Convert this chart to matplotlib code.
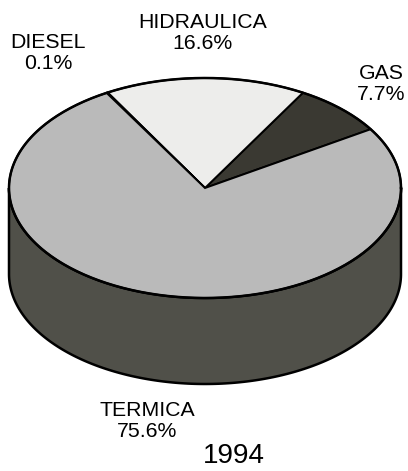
import numpy as np
import matplotlib.pyplot as plt
from matplotlib.patches import Polygon

labels = ["GAS", "HIDRAULICA", "DIESEL", "TERMICA"]
shares = [7.7, 16.6, 0.1, 75.6]
top_colors = ["#3a3932", "#ededeb", "#c2c2c2", "#bababa"]
side_color = "#505049"
year = "1994"

# label anchors (pixel coords), one per slice
label_xy = [(381, 84), (203, 33), (48, 53), (147, 421)]

W, H = 408, 471
cx, cy = 205, 188      # center of the top face
rx, ry = 196, 110      # radii of the top face
depth = 86             # height of the cylinder wall
start = 32.3           # first slice starts here (degrees, counter-clockwise)

def rim(a0, a1, dy=0.0, n=200):
    t = np.radians(np.linspace(a0, a1, n))
    return np.column_stack([cx + rx * np.cos(t), cy - ry * np.sin(t) + dy])

fig = plt.figure(figsize=(W / 100, H / 100), dpi=100)
ax = fig.add_axes([0, 0, 1, 1])
ax.set_xlim(0, W)
ax.set_ylim(H, 0)
ax.axis("off")

# wall: front half of the rim, from left to right
front = rim(180, 360)
wall = np.vstack([front, rim(360, 180, depth)])
ax.add_patch(Polygon(wall, closed=True, fc=side_color, ec="black", lw=1.8))

# top face slices
angles = start + np.concatenate([[0], np.cumsum(shares)]) * 3.6
for i, lab in enumerate(labels):
    pts = np.vstack([[cx, cy], rim(angles[i], angles[i + 1])])
    ax.add_patch(Polygon(pts, closed=True, fc=top_colors[i], ec="black", lw=1.4))

# outline of the top face
ring = rim(0, 360, n=400)
ax.plot(ring[:, 0], ring[:, 1], color="black", lw=1.8)

for lab, v, (x, y) in zip(labels, shares, label_xy):
    ax.text(x, y, f"{lab}\n{v}%", ha="center", va="center", fontsize=15.3,
            family="Liberation Sans", linespacing=1.15, color="black")

ax.text(234, 456, year, ha="center", va="center", fontsize=20,
        family="Liberation Sans", color="black")

fig.savefig("out.png", dpi=100)
